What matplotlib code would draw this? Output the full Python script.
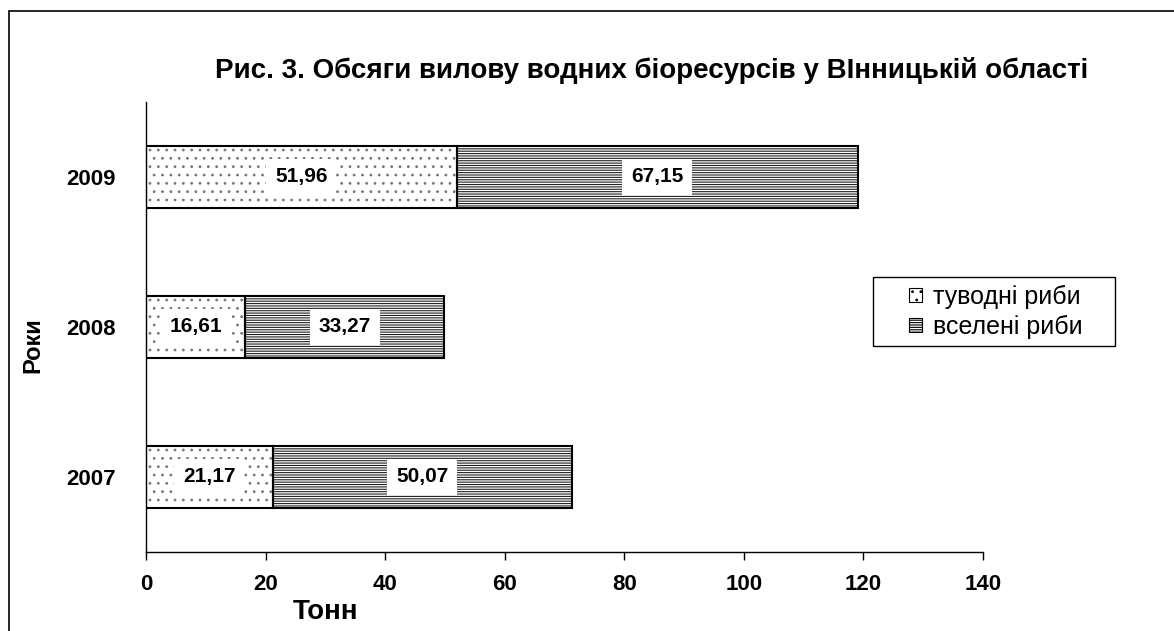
import numpy as np
import matplotlib.pyplot as plt
from matplotlib.patches import Rectangle

plt.rcParams['font.family'] = ['Liberation Sans', 'DejaVu Sans']
plt.rcParams['hatch.linewidth'] = 0.8

years = ["2007", "2008", "2009"]
native = [21.17, 16.61, 51.96]
introduced = [50.07, 33.27, 67.15]
native_labels = ["21,17", "16,61", "51,96"]
introduced_labels = ["50,07", "33,27", "67,15"]

fig = plt.figure(figsize=(11.74, 6.31), dpi=100)
ax = fig.add_axes([0.1244, 0.1252, 0.8373 - 0.1244, 0.8384 - 0.1252])

# outer frame
fig.patches.append(Rectangle((9 / 1174, -0.05), 1.1, 1 - 11 / 631 + 0.05,
                             transform=fig.transFigure, fill=False,
                             edgecolor="black", linewidth=1.2))

y = np.arange(len(years))
b1 = ax.barh(y, native, height=0.41, color="white", edgecolor="#777777",
             linewidth=0, hatch="..", label="туводні риби")
b2 = ax.barh(y, introduced, left=native, height=0.41, color="white",
             edgecolor="#222222", linewidth=0, hatch="-------",
             label="вселені риби")
# black outlines on top of the hatching
ax.barh(y, native, height=0.41, fill=False, edgecolor="black", linewidth=1.5)
ax.barh(y, introduced, left=native, height=0.41, fill=False,
        edgecolor="black", linewidth=1.5)

box = dict(boxstyle="square,pad=0.42", facecolor="white", edgecolor="none")
for i in range(len(years)):
    ax.text(native[i] / 2, y[i], native_labels[i], ha="center", va="center",
            fontsize=15, fontweight="bold", bbox=box)
    ax.text(native[i] + introduced[i] / 2, y[i], introduced_labels[i],
            ha="center", va="center", fontsize=15, fontweight="bold", bbox=box)

ax.set_xlim(0, 140)
ax.set_ylim(-0.5, 2.5)
ax.set_xticks(np.arange(0, 141, 20))
ax.set_yticks(y)
ax.set_yticklabels(years)
ax.tick_params(axis="x", labelsize=16, length=6, width=1, pad=10)
ax.tick_params(axis="y", labelsize=16, length=0, pad=22)
for lbl in ax.get_xticklabels() + ax.get_yticklabels():
    lbl.set_fontweight("bold")
ax.spines["top"].set_visible(False)
ax.spines["right"].set_visible(False)
ax.spines["left"].set_linewidth(1)
ax.spines["bottom"].set_linewidth(1)

fig.text(652 / 1174, 1 - 70 / 631, "Рис. 3. Обсяги вилову водних біоресурсів у ВІнницькій області",
         ha="center", va="center", fontsize=20, fontweight="bold")
fig.text(33 / 1174, 1 - 345 / 631, "Роки", rotation=90, ha="center", va="center",
         fontsize=17, fontweight="bold")
fig.text(326 / 1174, 1 - 612 / 631, "Тонн", ha="center", va="center",
         fontsize=20, fontweight="bold")

# legend with its own wider frame
fig.patches.append(Rectangle((873 / 1174, 1 - 346 / 631), 242 / 1174, 69 / 631,
                             transform=fig.transFigure, facecolor="white",
                             edgecolor="black", linewidth=1))
leg = fig.legend(handles=[b1, b2], loc="center left",
                 bbox_to_anchor=(909 / 1174, 1 - 312 / 631),
                 fontsize=18, frameon=False,
                 handlelength=0.5, handleheight=0.5, handletextpad=0.45,
                 borderpad=0, labelspacing=0.25, borderaxespad=0)
for h in leg.legend_handles:
    h.set_linewidth(0.8)
    h.set_edgecolor("black")

fig.savefig("out.png", dpi=100)
